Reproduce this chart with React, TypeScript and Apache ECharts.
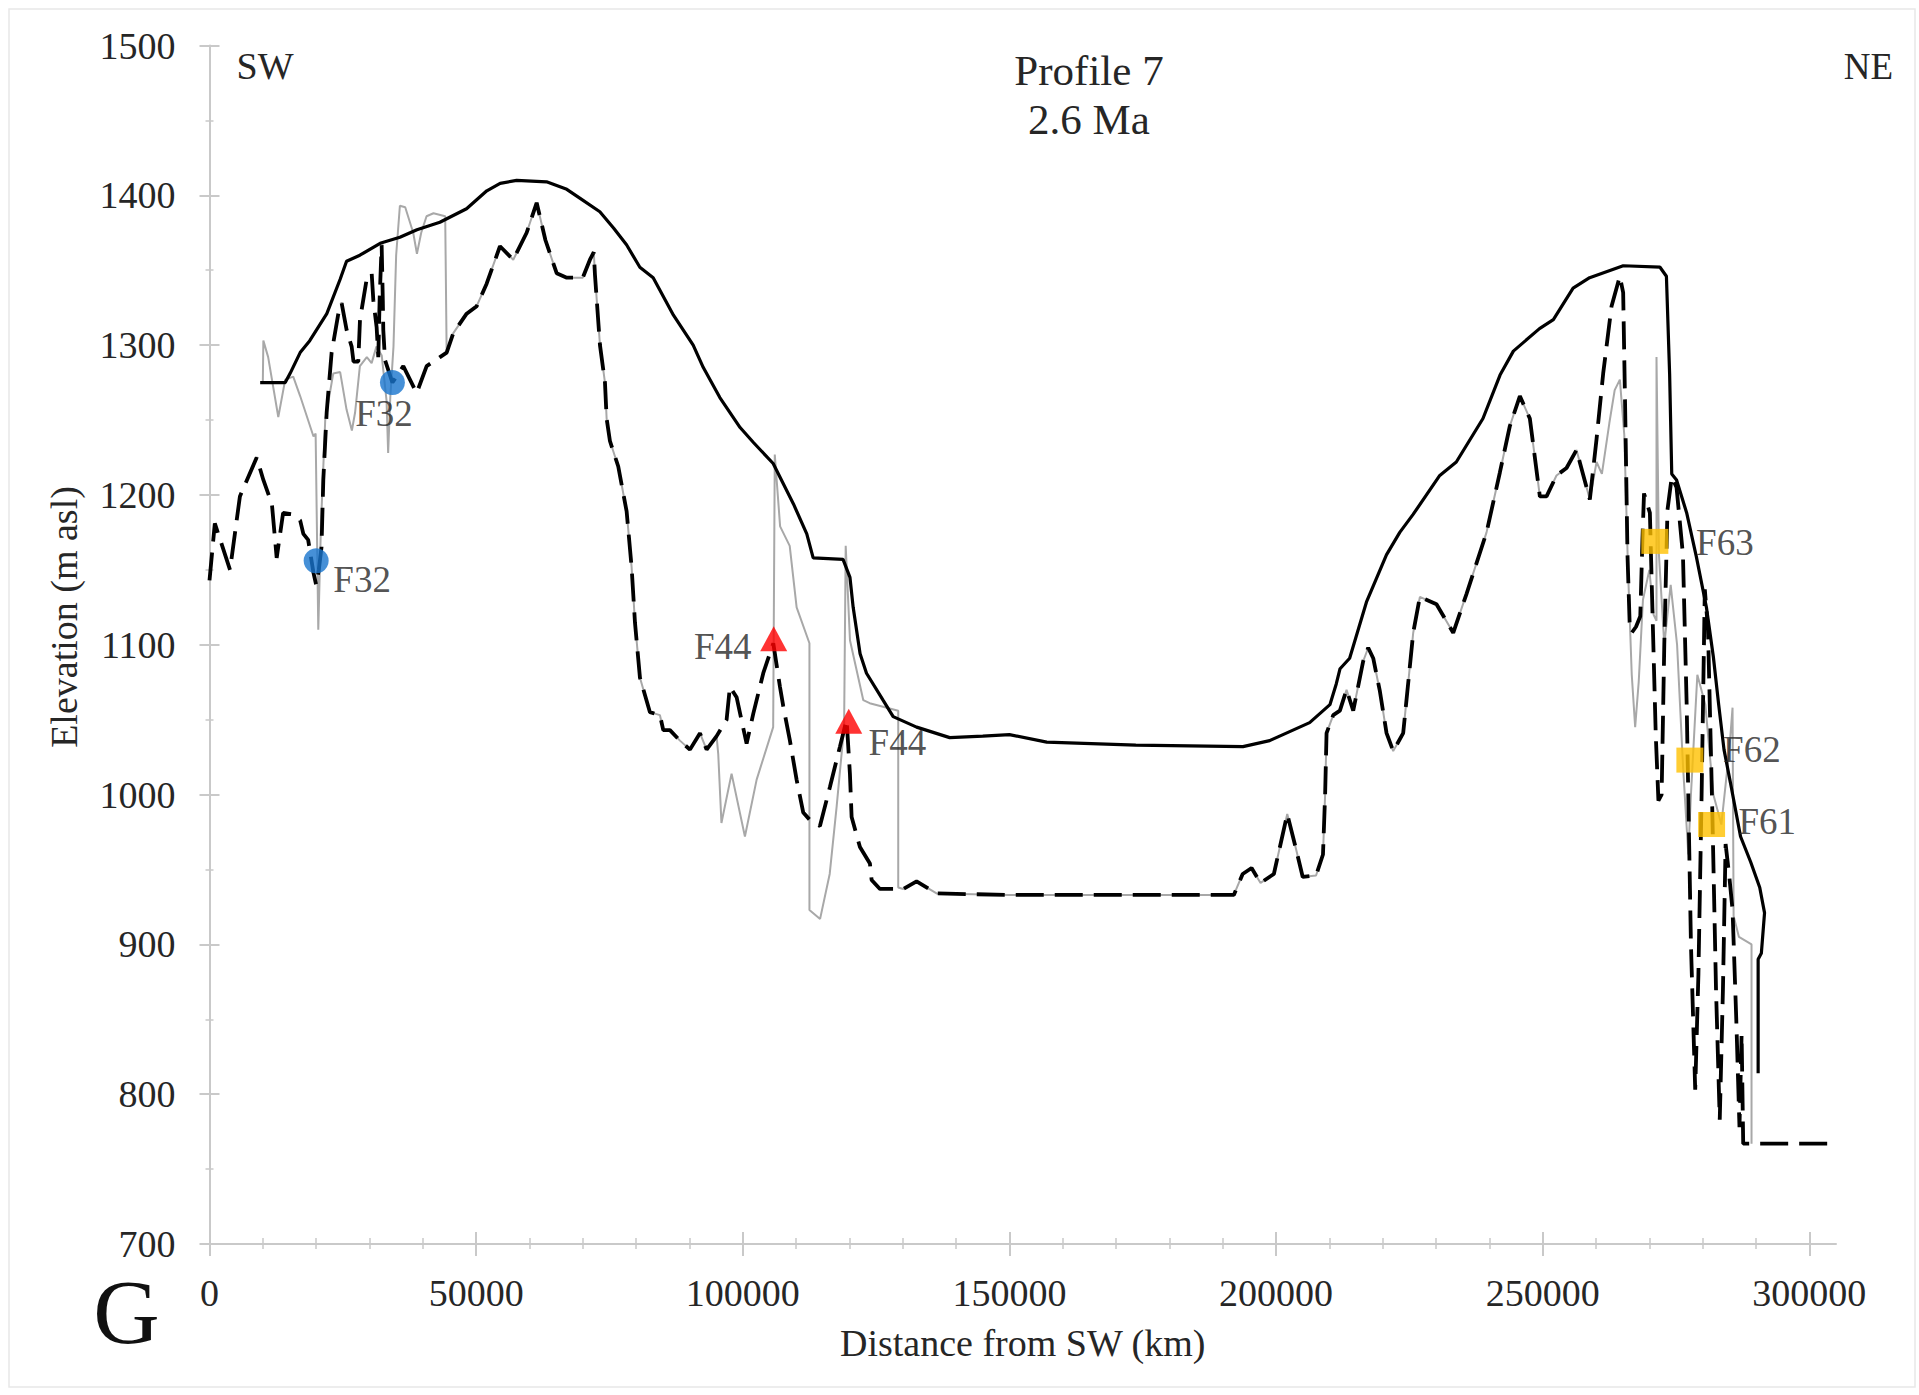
import React, { useEffect, useRef } from 'react';
import * as echarts from 'echarts';

const FONT = "'Liberation Serif', 'Times New Roman', serif";

const xTickValues = [0, 50000, 100000, 150000, 200000, 250000, 300000];

// Upper envelope (solid black)
const solidProfile: [number, number][] = [
  [9500,1275],[14200,1275],[15100,1281],[17000,1295],[18800,1303],[22000,1321],[24500,1344],[25700,1356],
  [28200,1360],[32000,1368],[35700,1372],[38900,1377],[43200,1382],[48200,1391],[50100,1397],[52000,1403],
  [54500,1408],[57600,1410],[63200,1409],[67000,1404],[69500,1398],[73200,1389],[75800,1378],[78200,1367],
  [80700,1352],[83200,1345],[87000,1320],[90700,1300],[92600,1285],[95700,1265],[99500,1245],[102000,1235],
  [105700,1221],[109500,1194],[112000,1174],[113200,1158],[118800,1157],[120100,1145],[120700,1125],[122000,1094],
  [123200,1081],[126300,1063],[128200,1052],[132600,1045],[138800,1038],[145000,1039],[150000,1040],[157000,1035],
  [173700,1033],[193800,1032],[198800,1036],[201300,1040],[206300,1048],[210100,1060],[211300,1074],[212000,1084],
  [213800,1091],[217000,1129],[220700,1160],[223200,1175],[225700,1187],[230700,1213],[233800,1222],[238800,1251],
  [242000,1280],[244500,1296],[249400,1311],[252000,1317],[255700,1338],[258800,1345],[265100,1353],[272000,1352],
  [273200,1346],[273800,1281],[274200,1214],[275100,1210],[277000,1188],[278800,1159],[280700,1125],[282000,1092],
  [283000,1060],[284000,1030],[285200,1008],[287100,972],[289000,955],[290700,938],[291600,921],[291000,894],
  [290400,890],[290400,814],
];

// Dashed black profile
const dashedProfile: [number, number][] = [
  [0,1143],[1000,1181],[2200,1168],[3850,1150],[5700,1199],[8850,1225],[10100,1210],[11700,1194],[12600,1158],
  [13800,1188],[15700,1187],[17000,1183],[17600,1174],[18500,1170],[19500,1148],[20000,1140],[20500,1150],
  [21000,1165],[21340,1210],[21970,1255],[22900,1295],[24160,1321],[24780,1328],[25720,1310],[26660,1299],
  [27000,1289],[27900,1289],[28220,1317],[29470,1344],[30410,1348],[30720,1330],[31340,1312],[31650,1292],
  [31900,1330],[32280,1367],[32500,1330],[32590,1310],[32910,1290],[34300,1275],[36340,1286],[38850,1268],
  [40720,1286],[43220,1292],[44470,1295],[45720,1308],[48220,1321],[50100,1326],[51970,1341],[54470,1366],
  [56960,1357],[59470,1375],[61350,1395],[63000,1370],[65100,1348],[67000,1345],[70000,1345],[71340,1357],
  [72060,1362],[72280,1347],[73220,1300],[74160,1275],[74470,1251],[75090,1236],[76650,1219],[78220,1189],
  [79150,1152],[79780,1115],[80720,1078],[82590,1055],[84470,1053],[85090,1043],[86340,1043],[88220,1036],
  [90090,1030],[91970,1041],[93220,1030],[95090,1039],[96970,1050],[97590,1072],[98840,1065],[100720,1034],
  [101970,1054],[103840,1081],[105720,1101],[106970,1072],[107590,1059],[108840,1036],[110090,1010],[111340,988],
  [112590,983],[114470,979],[116340,1005],[118220,1032],[119470,1050],[120090,1014],[120410,985],[121970,965],
  [123840,954],[124160,943],[125720,937],[130090,937],[132590,942],[136340,934],[150000,933],[192080,933],
  [193740,947],[195410,951],[197090,941],[199590,947],[202100,987],[203790,963],[205000,945],[207500,946],
  [208800,960],[209200,1000],[209470,1041],[210720,1053],[211970,1056],[213220,1070],[214470,1056],[216340,1089],
  [217280,1098],[218220,1091],[219470,1069],[220720,1041],[221970,1029],[223840,1041],[225720,1108],[226970,1132],
  [230090,1127],[233220,1108],[235720,1134],[239470,1175],[241970,1215],[243840,1246],[245720,1266],[247590,1251],
  [249470,1199],[250720,1199],[252590,1213],[254470,1218],[256340,1230],[258840,1197],[260090,1237],[261340,1281],
  [262910,1326],[264470,1346],[265090,1335],[265500,1250],[265900,1160],[266300,1115],[266700,1108],[267500,1112],
  [268300,1119],[268700,1170],[269000,1201],[270100,1188],[270600,1120],[271200,1040],[271700,996],[272300,1000],
  [272800,1100],[273400,1190],[274200,1212],[275100,1205],[276300,1160],[277000,1060],[277800,900],[278600,803],
  [279200,880],[279800,1000],[280400,1137],[281000,1110],[281800,990],[282500,870],[283200,783],[283800,870],
  [284300,967],[285000,945],[285600,923],[286300,850],[286900,778],[287300,840],[287600,767],[305000,767],
];

// Grey profile: parts where it departs from the dashed profile
const grayLeft: [number, number][] = [
  [10000,1275],[10100,1303],[11000,1292],[12900,1252],[14200,1277],[15700,1279],[17000,1266],[19500,1239],
  [19900,1241],[20400,1110],[20900,1180],[21700,1250],[23200,1281],[24500,1282],[25700,1257],[26700,1243],
  [27300,1255],[28200,1286],[29500,1292],[30400,1288],[31300,1299],[32300,1293],[33200,1263],[33500,1228],
  [33900,1265],[34500,1299],[35000,1360],[35700,1393],[36700,1392],[38200,1375],[38900,1361],[39700,1375],
  [40700,1386],[42000,1388],[44200,1386],[44470,1295],
];
const grayMid: [number, number][] = [
  [95400,1027],[96000,981],[97900,1014],[100400,972],[102600,1010],[105700,1045],[106000,1227],[107000,1179],
  [108800,1166],[110100,1125],[112500,1101],[112500,923],[114500,917],[116300,947],[117600,992],[119000,1045],
  [119300,1166],[120100,1103],[122600,1063],[123800,1061],[129150,1056],[129150,938],
];
const grayRight: [number, number][] = [
  [258840,1197],[260100,1222],[261100,1214],[262500,1248],[263500,1270],[264470,1277],[265300,1240],[266000,1150],
  [266700,1080],[267340,1045],[268000,1075],[268800,1130],[270000,1150],[270800,1120],[271340,1116],[271340,1292],
  [271800,1160],[272800,1100],[274000,1140],[275200,1100],[276300,1020],[277300,960],[277800,1000],[279000,1080],
  [280500,1060],[282000,1000],[283500,980],[285000,1030],[285600,1058],[285800,919],[286800,905],[289160,900],
  [289160,767],
];
// where the grey line coincides with the dashed one, it uses the same read values
const grayProfile: [number, number][] = [
  ...grayLeft,
  ...dashedProfile.filter((p) => p[0] > 44470 && p[0] <= 95090),
  ...grayMid,
  ...dashedProfile.filter((p) => p[0] > 129150 && p[0] <= 256340),
  ...grayRight,
];

const f32Points: [number, number][] = [[20000, 1156], [34300, 1275]];
const f32Labels = ['F32', 'F32'];
const f44Points: [number, number][] = [[105800, 1104], [119870, 1049]];
const f44Labels = ['F44', 'F44'];
const f6xPoints: [number, number][] = [[271030, 1169], [277600, 1023], [281670, 980]];
const f6xLabels = ['F63', 'F62', 'F61'];

const AXIS_COLOR = '#c9c9c9';
const TEXT_COLOR = '#262626';

function markerData(points: [number, number][], labels: string[], offsets: number[][]) {
  return points.map((p, i) => ({
    value: p,
    label: {
      show: true,
      formatter: labels[i],
      position: 'inside',
      offset: offsets[i],
      fontFamily: FONT,
      fontSize: 37,
      color: TEXT_COLOR,
    },
  }));
}

const plain = (v: number) => String(v);

export default function App() {
  const ref = useRef<HTMLDivElement>(null);

  useEffect(() => {
    if (!ref.current) return;
    const chart = echarts.init(ref.current, undefined, { renderer: 'svg' });
    const tickLine = { color: AXIS_COLOR, width: 2 };
    const option: any = {
      animation: false,
      backgroundColor: '#ffffff',
      title: {
        text: 'Profile 7\n2.6 Ma',
        left: 1084,
        top: 41,
        textAlign: 'center',
        textStyle: { fontFamily: FONT, fontSize: 43, lineHeight: 49, fontWeight: 'normal', color: TEXT_COLOR },
      },
      grid: { left: 209.5, top: 45.5, right: 83, bottom: 151, containLabel: false, outerBoundsMode: 'none' },
      xAxis: [
        {
          type: 'value', min: 0, max: 305000, interval: 50000, position: 'bottom',
          axisLine: { show: true, onZero: false, lineStyle: tickLine },
          axisTick: { show: true, length: 12, customValues: xTickValues, lineStyle: tickLine },
          minorTick: { show: true, splitNumber: 5, length: 5, lineStyle: { color: AXIS_COLOR, width: 1.5 } },
          axisLabel: { customValues: xTickValues, formatter: plain, margin: 30, fontFamily: FONT, fontSize: 38, color: TEXT_COLOR },
          splitLine: { show: false },
          minorSplitLine: { show: false },
          name: 'Distance from SW (km)', nameLocation: 'middle', nameGap: 80,
          nameTextStyle: { fontFamily: FONT, fontSize: 38, color: TEXT_COLOR },
        },
        {
          type: 'value', min: 0, max: 305000, interval: 50000, position: 'bottom',
          axisLine: { show: false, onZero: false },
          axisTick: { show: true, inside: true, length: 12, customValues: xTickValues, lineStyle: tickLine },
          minorTick: { show: true, splitNumber: 5, length: 6, lineStyle: { color: AXIS_COLOR, width: 1.5 } },
          axisLabel: { show: false },
          splitLine: { show: false },
        },
      ],
      yAxis: [
        {
          type: 'value', min: 700, max: 1500, interval: 100, position: 'left',
          axisLine: { show: true, onZero: false, lineStyle: tickLine },
          axisTick: { show: true, length: 10, lineStyle: tickLine },
          minorTick: { show: true, splitNumber: 2, length: 4, lineStyle: { color: AXIS_COLOR, width: 1.5 } },
          axisLabel: { formatter: plain, margin: 34, fontFamily: FONT, fontSize: 38, color: TEXT_COLOR },
          splitLine: { show: false },
        },
        {
          type: 'value', min: 700, max: 1500, interval: 100, position: 'left',
          axisLine: { show: false, onZero: false },
          axisTick: { show: true, inside: true, length: 10, lineStyle: tickLine },
          minorTick: { show: true, splitNumber: 2, length: 4, lineStyle: { color: AXIS_COLOR, width: 1.5 } },
          axisLabel: { show: false },
          splitLine: { show: false },
        },
      ],
      graphic: [
        { type: 'rect', silent: true, z: -10, shape: { x: 9, y: 9, width: 1906, height: 1378 },
          style: { fill: 'none', stroke: '#e8e8e8', lineWidth: 1.5 } },
        { type: 'text', x: 265, y: 65.5, style: { text: 'SW', fontFamily: FONT, fontSize: 38, fill: TEXT_COLOR, align: 'center', verticalAlign: 'middle' } },
        { type: 'text', x: 1868.5, y: 66.5, style: { text: 'NE', fontFamily: FONT, fontSize: 37, fill: TEXT_COLOR, align: 'center', verticalAlign: 'middle' } },
        { type: 'text', x: 126.5, y: 1312, style: { text: 'G', fontFamily: FONT, fontSize: 92, fill: '#111111', align: 'center', verticalAlign: 'middle' } },
        { type: 'text', x: 64, y: 617, rotation: Math.PI / 2,
          style: { text: 'Elevation (m asl)', fontFamily: FONT, fontSize: 38, fill: TEXT_COLOR, align: 'center', verticalAlign: 'middle' } },
      ],
      series: [
        {
          type: 'line', name: 'grey', data: grayProfile, showSymbol: false, silent: true, z: 2,
          lineStyle: { color: '#a8a8a8', width: 2 },
        },
        {
          type: 'line', name: 'dashed', data: dashedProfile, showSymbol: false, silent: true, z: 3,
          lineStyle: { color: '#000000', width: 3.8, type: [28, 11] },
        },
        {
          type: 'line', name: 'solid', data: solidProfile, showSymbol: false, silent: true, z: 4,
          lineStyle: { color: '#000000', width: 3.2 },
        },
        {
          type: 'scatter', name: 'F32', symbol: 'circle', symbolSize: 25, z: 6,
          itemStyle: { color: '#1874CD' },
          data: markerData(f32Points, f32Labels, [[46, 19], [-8.5, 30.5]]),
        },
        {
          type: 'scatter', name: 'F44', symbol: 'triangle', symbolSize: [27, 25], z: 6,
          itemStyle: { color: '#FF0000' },
          data: markerData(f44Points, f44Labels, [[-51, 8], [48.6, 21]]),
        },
        {
          type: 'scatter', name: 'F6x', symbol: 'rect', symbolSize: [27, 25], z: 6,
          itemStyle: { color: '#FFC000' },
          data: markerData(f6xPoints, f6xLabels, [[70, 1], [62, -11], [55.6, -3]]),
        },
      ],
    };
    chart.setOption(option);
    return () => chart.dispose();
  }, []);

  return (
    <div
      ref={ref}
      style={{ position: 'absolute', left: 0, top: 0, width: 1919, height: 1395, background: '#fff' }}
    />
  );
}
